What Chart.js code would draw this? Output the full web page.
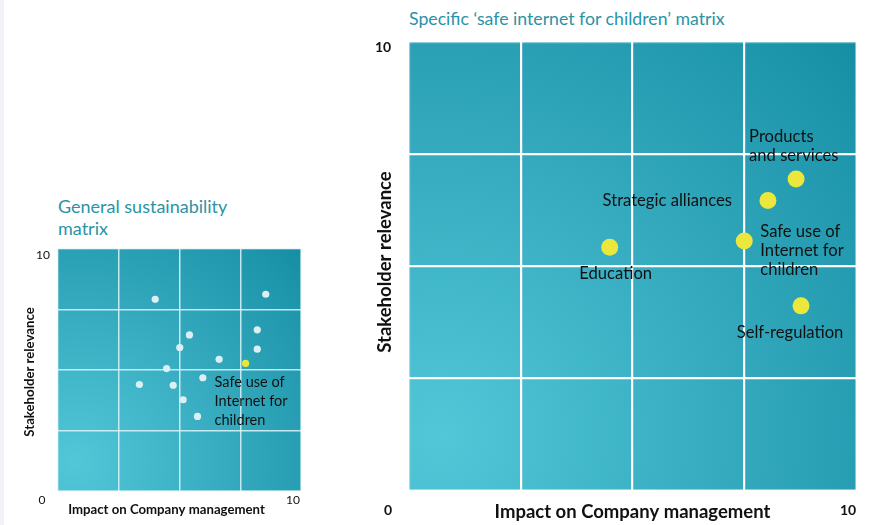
<!DOCTYPE html>
<html>
<head>
<meta charset="utf-8">
<script src="https://cdn.jsdelivr.net/npm/chart.js@4.4.1/dist/chart.umd.min.js"></script>
<style>
    body { margin: 0; background: #fff; width: 894px; height: 525px; overflow: hidden; position: relative; font-family: Lato, sans-serif; }
    canvas { position: absolute; left: 0; top: 0; }
    .edge { position: absolute; left: 0; top: 0; width: 4px; height: 525px; background: #f3f3f7; }
    .title { position: absolute; color: #2a93a6; white-space: nowrap; }
    #bigTitle { left: 409px; top: 8px; font-size: 17.7px; }
    #smallTitle { left: 58px; top: 195px; font-size: 18px; line-height: 22px; }
</style>
</head>
<body>
<div class="edge"></div>
<div class="title" id="bigTitle">Specific ‘safe internet for children’ matrix</div>
<div class="title" id="smallTitle">General sustainability<br>matrix</div>
<canvas id="smallChart" width="894" height="525"></canvas>
<canvas id="bigChart" width="894" height="525"></canvas>
<script>
// data
var axisMin = 0;
var axisMax = 10;
var gridStep = 2.5;
var xTitle = "Impact on Company management";
var yTitle = "Stakeholder relevance";

// general sustainability matrix (white = other topics, yellow = safe internet)
var generalX = [4.0, 8.55, 5.41, 5.01, 8.20, 8.20, 6.63, 4.47, 5.96, 3.35, 4.74, 5.15, 5.74];
var generalY = [7.92, 8.13, 6.45, 5.93, 6.66, 5.86, 5.44, 5.06, 4.68, 4.40, 4.37, 3.77, 3.08];
var safeX = [7.72];
var safeY = [5.27];
var safeLabel = ["Safe use of", "Internet for", "children"];

// specific safe internet matrix
var specificLabels = [["Products", "and services"], ["Strategic alliances"], ["Safe use of", "Internet for", "children"], ["Education"], ["Self-regulation"]];
var specificX = [8.66, 8.03, 7.50, 4.49, 8.77];
var specificY = [6.94, 6.46, 5.56, 5.42, 4.11];

Chart.defaults.font.family = "Lato, sans-serif";

// where the label text sits relative to its point
var specificLabelPos = [
    { dx: -47, dy: -42, align: "left" },
    { dx: -36, dy: 0, align: "right" },
    { dx: 16, dy: -9, align: "left" },
    { dx: 6, dy: 26, align: "center" },
    { dx: -11, dy: 27, align: "center" }
];

function toPoints(xs, ys) {
    var pts = [];
    for (var i = 0; i < xs.length; i++) {
        pts.push({ x: xs[i], y: ys[i] });
    }
    return pts;
}

function gridColor(inner, edge) {
    return function (ctx) {
        if (ctx.tick && (ctx.tick.value == axisMin || ctx.tick.value == axisMax)) return edge;
        return inner;
    };
}

function buildScales(inner, edge, width) {
    var axis = function (isX) {
        return {
            type: "linear",
            min: axisMin,
            max: axisMax,
            ticks: { display: false, stepSize: gridStep },
            grid: { color: gridColor(inner, edge), lineWidth: width, drawTicks: false },
            border: { display: false },
            afterFit: function (s) {
                if (isX) s.height = 0; else s.width = 0;
            }
        };
    };
    return { x: axis(true), y: axis(false) };
}

// teal background, light at bottom left, dark at top right
var backgroundPlugin = {
    id: "matrixBackground",
    beforeDraw: function (chart) {
        var a = chart.chartArea;
        var c = chart.ctx;
        var w = a.right - a.left;
        var h = a.bottom - a.top;
        var cx = a.left + w * 0.07;
        var cy = a.bottom - h * 0.12;
        var g = c.createRadialGradient(cx, cy, 0, cx, cy, Math.sqrt(w * w + h * h) * 0.98);
        g.addColorStop(0, "#51c7d8");
        g.addColorStop(0.5, "#33a8bd");
        g.addColorStop(1, "#108a9f");
        c.save();
        c.fillStyle = g;
        c.fillRect(a.left, a.top, w, h);
        c.restore();
    }
};

function textPlugin(cfg) {
    return {
        id: "matrixText",
        afterDatasetsDraw: function (chart) {
            var c = chart.ctx;
            var a = chart.chartArea;
            var xs = chart.scales.x;
            var ys = chart.scales.y;
            c.save();
            c.fillStyle = "#111";
            c.textBaseline = "middle";

            // corner values
            c.font = cfg.tickFont;
            c.textAlign = "center";
            c.fillText(String(axisMin), xs.getPixelForValue(axisMin) + cfg.zero[0], ys.getPixelForValue(axisMin) + cfg.zero[1]);
            c.fillText(String(axisMax), xs.getPixelForValue(axisMax) + cfg.xTen[0], ys.getPixelForValue(axisMin) + cfg.xTen[1]);
            c.fillText(String(axisMax), xs.getPixelForValue(axisMin) + cfg.yTen[0], ys.getPixelForValue(axisMax) + cfg.yTen[1]);

            // axis titles
            c.font = cfg.titleFont;
            c.fillText(xTitle, (a.left + a.right) / 2 + cfg.xTitle[0], a.bottom + cfg.xTitle[1]);
            c.save();
            c.translate(a.left + cfg.yTitle[0], (a.top + a.bottom) / 2 + cfg.yTitle[1]);
            c.rotate(-Math.PI / 2);
            c.fillText(yTitle, 0, 0);
            c.restore();

            // point labels
            c.font = cfg.labelFont;
            for (var i = 0; i < cfg.labels.length; i++) {
                var lab = cfg.labels[i];
                var px = xs.getPixelForValue(lab.x);
                var py = ys.getPixelForValue(lab.y);
                c.textAlign = lab.pos.align;
                for (var j = 0; j < lab.lines.length; j++) {
                    c.fillText(lab.lines[j], px + lab.pos.dx, py + lab.pos.dy + j * cfg.lineHeight);
                }
            }
            c.restore();
        }
    };
}

function buildSpecific() {
    var labels = [];
    for (var i = 0; i < specificLabels.length; i++) {
        labels.push({ lines: specificLabels[i], x: specificX[i], y: specificY[i], pos: specificLabelPos[i] });
    }
    new Chart(document.getElementById("bigChart"), {
        type: "scatter",
        data: {
            datasets: [{
                data: toPoints(specificX, specificY),
                pointRadius: 8.5,
                pointBackgroundColor: "#ece73c",
                pointBorderWidth: 0
            }]
        },
        options: {
            responsive: false,
            animation: false,
            events: [],
            devicePixelRatio: 1,
            layout: { padding: { left: 409, top: 42, right: 38, bottom: 35 } },
            plugins: { legend: { display: false }, tooltip: { enabled: false } },
            scales: buildScales("#ffffff", "rgba(255,255,255,0.45)", 2.2)
        },
        plugins: [backgroundPlugin, textPlugin({
            tickFont: "bold 14px Lato, sans-serif",
            titleFont: "bold 18.5px Lato, sans-serif",
            labelFont: "16.6px Lato, sans-serif",
            lineHeight: 19,
            zero: [-21, 20],
            xTen: [-8, 20],
            yTen: [-26, 5],
            xTitle: [0, 22],
            yTitle: [-24, -4],
            labels: labels
        })]
    });
}

function buildGeneral() {
    new Chart(document.getElementById("smallChart"), {
        type: "scatter",
        data: {
            datasets: [{
                data: toPoints(generalX, generalY),
                pointRadius: 3.6,
                pointBackgroundColor: "#dcf0f4",
                pointBorderWidth: 0
            }, {
                data: toPoints(safeX, safeY),
                pointRadius: 3.6,
                pointBackgroundColor: "#e9e63a",
                pointBorderWidth: 0
            }]
        },
        options: {
            responsive: false,
            animation: false,
            events: [],
            devicePixelRatio: 1,
            layout: { padding: { left: 58, top: 249, right: 593, bottom: 34 } },
            plugins: { legend: { display: false }, tooltip: { enabled: false } },
            scales: buildScales("rgba(225,245,248,0.85)", "rgba(225,245,248,0.6)", 1.5)
        },
        plugins: [backgroundPlugin, textPlugin({
            tickFont: "12px Lato, sans-serif",
            titleFont: "bold 13.2px Lato, sans-serif",
            labelFont: "14.5px Lato, sans-serif",
            lineHeight: 18.7,
            zero: [-16, 9],
            xTen: [-8, 9],
            yTen: [-15, 6],
            xTitle: [-13, 19],
            yTitle: [-28, 2],
            labels: [{ lines: safeLabel, x: safeX[0], y: safeY[0], pos: { dx: -31, dy: 19, align: "left" } }]
        })]
    });
}

buildGeneral();
buildSpecific();
</script>
</body>
</html>
